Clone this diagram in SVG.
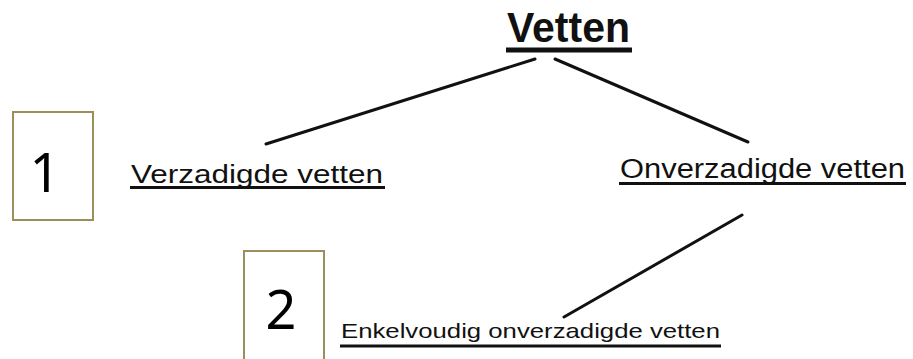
<svg xmlns="http://www.w3.org/2000/svg" width="913" height="359" viewBox="0 0 913 359">
<style>
.lbl{font-family:"Liberation Sans",Arial,sans-serif;fill:#111}
.ul{stroke:#111;stroke-linecap:butt}
.box{fill:#fff;stroke:#9c8f5a;stroke-width:2}
.num{font-family:"Noto Sans","Open Sans",sans-serif;font-size:54px;fill:#000;text-anchor:middle}
.conn line{stroke:#111;stroke-width:3;stroke-linecap:round}
</style>
<rect width="913" height="359" fill="#fff"/>
<g id="box1"><rect class="box" x="13" y="112" width="80" height="108"/><text class="num" x="45" y="192">1</text></g>
<g id="box2"><rect class="box" x="244" y="251" width="80" height="112"/><text class="num" x="281" y="329">2</text></g>
<g id="vetten"><text class="lbl" x="507" y="42" font-size="43" font-weight="bold" textLength="123" lengthAdjust="spacingAndGlyphs">Vetten</text><line class="ul" x1="506" y1="50" x2="632" y2="50" stroke-width="5"/></g>
<g id="verzadigde"><text class="lbl" x="131" y="183" font-size="25" textLength="252" lengthAdjust="spacingAndGlyphs">Verzadigde vetten</text><line class="ul" x1="130" y1="187.5" x2="385" y2="187.5" stroke-width="3"/></g>
<g id="onverzadigde"><text class="lbl" x="620" y="178" font-size="27" textLength="285" lengthAdjust="spacingAndGlyphs">Onverzadigde vetten</text><line class="ul" x1="619" y1="183.5" x2="906" y2="183.5" stroke-width="3"/></g>
<g id="enkelvoudig"><text class="lbl" x="341" y="338" font-size="21" textLength="379" lengthAdjust="spacingAndGlyphs">Enkelvoudig onverzadigde vetten</text><line class="ul" x1="340" y1="346" x2="721" y2="346" stroke-width="3"/></g>
<g class="conn" id="connectors">
<line x1="535" y1="59" x2="266" y2="144"/>
<line x1="555" y1="59" x2="748" y2="142"/>
<line x1="742" y1="215" x2="564" y2="317"/>
</g>
</svg>
